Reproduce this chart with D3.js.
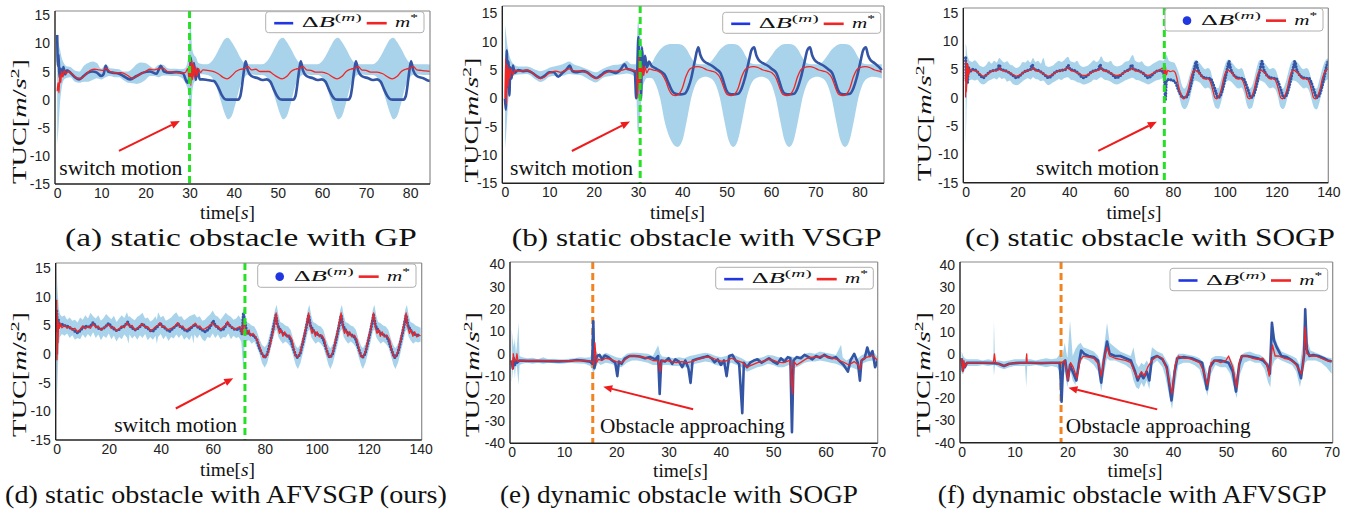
<!DOCTYPE html>
<html>
<head>
<meta charset="utf-8">
<script src="https://cdn.jsdelivr.net/npm/d3@7"></script>
<style>
body { margin: 0; background: #fff; }
svg { display: block; }
</style>
</head>
<body>
<svg id="chart" width="1359" height="515"></svg>
<script>
// tick values
const ticks85 = [0, 10, 20, 30, 40, 50, 60, 70, 80];
const ticks140 = [0, 20, 40, 60, 80, 100, 120, 140];
const ticks70 = [0, 10, 20, 30, 40, 50, 60, 70];
const yTicks15 = [-15, -10, -5, 0, 5, 10, 15];
const yTicks40 = [-40, -30, -20, -10, 0, 10, 20, 30, 40];

const captions = ["(a) static obstacle with GP", "(b) static obstacle with VSGP", "(c) static obstacle with SOGP",
  "(d) static obstacle with AFVSGP (ours)", "(e) dynamic obstacle with SOGP", "(f) dynamic obstacle with AFVSGP"];
const notes = ["switch motion", "switch motion", "switch motion", "switch motion", "Obstacle approaching", "Obstacle approaching"];
const eventTimes = [30.0, 30.5, 76.7, 72.4, 15.5, 18.8];

// (a) GP  -- [time, value] and band [time, lo, hi]
const blueA = [[0,11.5],[0.15,6],[0.3,8],[0.5,4],[0.8,5.5],[1.1,4.2],[1.4,5.8],[1.8,4.5],[2.2,5.2],[3,4.8],[4,4.0],[5,3.6],[6,4.2],[7,4.8],[8,5.0],[9,4.8],[10,4.2],[10.5,4.5],[11,6.0],[11.5,5.0],[12.5,4.8],[14,4.6],[15,4.2],[16.5,3.6],[18,4.2],[19.5,4.8],[21,5.0],[22.5,4.6],[23.5,6.0],[24.2,5.0],[25.5,4.8],[27,4.9],[28.5,4.7],[29.5,3.0],[30,4.0],[30.3,7.5],[30.6,4.0],[31,6.5],[31.4,3.5],[31.8,5.5],[32.3,3.6],[33,3.6],[34,3.5],[35.5,3.3],[36.5,2.2],[37.3,0.8],[38,0.1],[38.5,0],[41,0],[41.5,0.6],[41.9,2.5],[42.3,5.0],[42.7,6.8],[43.2,5.2],[44,4.2],[45.5,3.8],[46.5,3.5],[47.5,3.6],[48.3,3.2],[49,2.0],[49.8,0.7],[50.5,0.05],[51,0],[53.5,0],[54,0.6],[54.4,2.5],[54.8,5.0],[55.2,6.8],[55.7,5.2],[56.5,4.2],[58,3.8],[59,3.5],[60,3.6],[60.8,3.2],[61.5,2.0],[62.3,0.7],[63,0.05],[63.5,0],[66,0],[66.5,0.6],[66.9,2.5],[67.3,5.0],[67.7,6.8],[68.2,5.2],[69,4.2],[70.5,3.8],[71.5,3.5],[72.5,3.6],[73.3,3.2],[74,2.0],[74.8,0.7],[75.5,0.05],[76,0],[78.5,0],[79,0.6],[79.4,2.5],[79.8,5.0],[80.2,6.8],[80.7,5.2],[81.5,4.2],[83,3.8],[84,3.4],[85,3.3]];
const redA = [[0,1.5],[0.2,3],[0.4,1.2],[0.6,4.5],[0.8,3.0],[1.0,5.0],[1.3,4.0],[1.6,5.2],[2,4.6],[2.5,5.0],[3.5,4.5],[4.5,3.8],[5.5,3.8],[6.5,4.5],[7.5,5.2],[8.5,5.4],[9.5,5.3],[10.5,5.2],[11,5.6],[12,5.0],[13,4.8],[14.5,4.8],[16,4.3],[17,3.8],[18.5,4.4],[20,5.0],[21,5.4],[22,5.3],[23,5.5],[24,5.6],[25,5.0],[26.5,4.9],[28,4.8],[29,4.8],[29.6,5.5],[29.9,3.5],[30.1,6.5],[30.3,2.5],[30.5,7],[30.7,3.5],[30.9,6.5],[31.1,4],[31.4,5.8],[31.7,4.2],[32,5.5],[32.5,4.8],[33,5.3],[34,5.2],[35.5,5.0],[36.5,4.6],[37.5,4.0],[38.5,3.7],[39.5,4.2],[40.5,5.0],[41.5,5.4],[42.5,5.5],[43.2,5.9],[44,5.3],[45,5.4],[46,5.0],[47,5.0],[48,5.0],[48.8,4.6],[50,4.0],[51,3.7],[52,4.1],[53,5.0],[54,5.4],[55,5.6],[55.7,5.9],[56.5,5.3],[57.5,5.2],[58.5,4.9],[60,4.9],[61.3,4.6],[62.5,4.0],[63.5,3.7],[64.5,4.1],[65.5,5.0],[66.5,5.4],[67.5,5.6],[68.2,5.9],[69,5.3],[70,5.2],[71,4.9],[72.5,4.9],[73.8,4.6],[75,4.0],[76,3.7],[77,4.1],[78,5.0],[79,5.4],[80,5.6],[80.7,5.9],[81.5,5.3],[82.5,5.2],[83.5,5.1],[85,5.0]];
const bandA = [[0,-8,12],[0.3,-5,10],[0.6,-1,9],[1,2,7.5],[1.5,3.5,6.5],[2,3.8,6],[3,4,5.8],[4,3.2,5.2],[5,3,5],[6,3.2,6],[7,3.2,6.5],[8,3.5,6.8],[9,3.8,6.5],[10,3.6,5.5],[11,4,6.3],[12,4.2,5.6],[13,4,5.5],[14,4,5.4],[15,3.5,5],[16,3,5],[17,2.9,5.5],[18,2.8,6.3],[19,3,6.6],[20,3.5,6.5],[21,4.2,6],[22,4.2,5.6],[23,4,6.2],[24,4.3,6.2],[25,4.3,5.6],[26,4.2,5.5],[27,4.2,5.5],[28,4,5.4],[29,3,5.6],[29.8,1,8],[30.2,-5,14],[30.6,1,9],[31,3,8],[31.5,3.5,7.5],[32,4.5,6.5],[33,4.5,6.3],[34,4.4,6.3],[35,4,6.8],[36,2.5,8],[37,0,9.5],[38,-2.5,10.8],[38.7,-3.5,11],[39.5,-3,10.3],[40.5,-0.5,9],[41.5,2.5,7.5],[42.5,4,6.5],[43.5,4.5,6.3],[45,4.4,6.3],[46.5,4.4,6.3],[47.5,4,6.8],[48.5,2.5,8],[49.5,0,9.5],[50.5,-2.5,10.8],[51.2,-3.5,11],[52,-3,10.3],[53,-0.5,9],[54,2.5,7.5],[55,4,6.5],[56,4.5,6.3],[57.5,4.4,6.3],[59,4.4,6.3],[60,4,6.8],[61,2.5,8],[62,0,9.5],[63,-2.5,10.8],[63.7,-3.5,11],[64.5,-3,10.3],[65.5,-0.5,9],[66.5,2.5,7.5],[67.5,4,6.5],[68.5,4.5,6.3],[70,4.4,6.3],[71.5,4.4,6.3],[72.5,4,6.8],[73.5,2.5,8],[74.5,0,9.5],[75.5,-2.5,10.8],[76.2,-3.5,11],[77,-3,10.3],[78,-0.5,9],[79,2.5,7.5],[80,4,6.5],[81,4.5,6.3],[83,4.4,6.3],[85,4.4,6.2]];

// (b) VSGP
const blueB = [[0,0],[0.2,-2],[0.4,8.5],[0.6,2],[0.8,6.5],[1,0.5],[1.2,5.5],[1.5,3.5],[1.8,5.8],[2.2,4.5],[3,5],[4,4.8],[5,4.9],[6,4.6],[7,4.0],[8,3.6],[9,4.0],[10,4.6],[11,4.6],[12,3.8],[13,4.5],[14,5.2],[14.6,5.8],[15.2,4.8],[16,4.6],[17.5,4.8],[18.5,4.6],[19.5,4.0],[20.6,3.6],[21.5,4.0],[22.5,4.6],[23.5,4.8],[25,4.5],[26,5.0],[27,6.0],[27.6,5.2],[28.5,5.0],[29.3,4.6],[29.6,0],[29.9,6],[30.1,10.8],[30.3,3],[30.5,8],[30.7,0],[30.9,9],[31.2,5],[31.6,7.5],[32,5.5],[32.5,6.5],[33,5.8],[34,5.3],[35,4.8],[36,4.2],[37,2.5],[37.8,1.2],[38.5,0.8],[39.5,0.7],[40.5,0.8],[41.3,1.8],[42,3.5],[42.8,6.5],[43.6,9],[44.1,7.6],[44.6,6.8],[45.6,6.2],[46.6,5.8],[47.6,5.2],[48.6,4.5],[49.3,3.0],[49.9,1.5],[50.6,0.8],[51.5,0.7],[52.6,0.8],[53.4,1.8],[54.1,3.5],[55,6.5],[55.6,8.5],[56.2,9],[56.7,7.6],[57.2,6.8],[58.2,6.2],[59.2,5.8],[60.2,5.2],[61.2,4.5],[61.9,3.0],[62.5,1.5],[63.2,0.8],[64.1,0.7],[65.2,0.8],[66,1.8],[66.7,3.5],[67.6,6.5],[68.2,8.5],[68.8,9],[69.3,7.6],[69.8,6.8],[70.8,6.2],[71.8,5.8],[72.8,5.2],[73.8,4.5],[74.5,3.0],[75.1,1.5],[75.8,0.8],[76.7,0.7],[77.8,0.8],[78.6,1.8],[79.3,3.5],[80.2,6.5],[80.8,8.5],[81.4,9],[81.9,7.6],[82.4,6.8],[83.4,6.2],[84.4,5.5],[85,5]];
const redB = [[0,0],[0.15,7],[0.3,-1],[0.5,6],[0.7,2],[0.9,5.5],[1.1,3.5],[1.4,5.2],[1.8,4.2],[2.3,5],[3,4.8],[5,5],[6,4.6],[7,4.0],[8,3.5],[9,3.8],[10,4.5],[11.5,4.8],[12.5,4.6],[13.5,4.9],[14.5,5.2],[15.5,4.9],[17,4.8],[18.5,4.6],[19.5,4.0],[20.5,3.5],[21.5,3.8],[22.5,4.4],[24,4.8],[25.5,4.8],[26.5,5.0],[27.5,5.2],[28.5,5.0],[29.5,4.9],[29.8,3],[30,0],[30.2,7.5],[30.4,2],[30.6,6],[30.8,3.5],[31,5.8],[31.3,4],[31.6,5.5],[32,4.5],[32.5,5.2],[33.5,5.0],[34.5,4.8],[35.5,4.2],[36.3,3.0],[37,1.5],[37.8,0.6],[38.5,0.5],[39.3,0.8],[40,1.8],[40.8,3.8],[41.5,5.0],[42.2,5.4],[43.5,5.6],[44.6,5.4],[45.6,5.0],[46.6,4.8],[47.6,4.5],[48.6,3.5],[49.4,1.8],[50.1,0.7],[51.1,0.5],[51.9,0.8],[52.6,1.8],[53.4,3.8],[54.1,5.0],[54.8,5.4],[56.1,5.6],[57.2,5.4],[58.2,5.0],[59.2,4.8],[60.2,4.5],[61.2,3.5],[62,1.8],[62.7,0.7],[63.7,0.5],[64.5,0.8],[65.2,1.8],[66,3.8],[66.7,5.0],[67.4,5.4],[68.7,5.6],[69.8,5.4],[70.8,5.0],[71.8,4.8],[72.8,4.5],[73.8,3.5],[74.6,1.8],[75.3,0.7],[76.3,0.5],[77.1,0.8],[77.8,1.8],[78.6,3.8],[79.3,5.0],[80,5.4],[81.3,5.6],[82.4,5.4],[83.4,5.0],[84.4,4.8],[85,4.6]];
const bandB = [[0,-9,13],[0.3,-6,11],[0.6,-2,9],[1,1.5,7.5],[1.5,3.5,6.5],[2,4,6],[3,4.2,5.6],[5,4.3,5.6],[7,3.3,5],[8,2.9,4.8],[9,3.2,5],[10,3.8,5.4],[11.5,4,5.7],[13,4,6],[14.5,4.3,6.5],[15.5,4.2,6],[17,4.1,5.6],[19,3.3,5],[20.5,2.8,4.6],[22,3.6,5.2],[24,4,5.8],[26,4.2,6],[27.5,4.4,6.6],[28.5,4.2,6],[29.5,3.5,6],[30,-6,13.5],[30.5,-3,11],[31,1.5,9],[31.5,3,7.5],[32,3.6,6.5],[33,3.6,6.2],[34,2.5,7.5],[35,0,8.6],[36,-4,9.3],[37.5,-7.5,9.6],[38.9,-8.6,9.6],[40,-7.5,9.4],[41,-4,8.6],[42,0,7.2],[43,2.5,6.2],[44,3.5,6],[45.2,3.8,6],[46.5,3.5,6.5],[47.5,2.5,7.5],[48.5,0,8.6],[49.5,-4,9.3],[50.5,-7.5,9.6],[51.5,-8.6,9.6],[52.5,-7.5,9.4],[53.5,-4,8.6],[54.5,0,7.2],[55.5,2.5,6.2],[56.5,3.5,6],[57.8,3.8,6],[59.1,3.5,6.5],[60.1,2.5,7.5],[61.1,0,8.6],[62.1,-4,9.3],[63.1,-7.5,9.6],[64.1,-8.6,9.6],[65.1,-7.5,9.4],[66.1,-4,8.6],[67.1,0,7.2],[68.1,2.5,6.2],[69.1,3.5,6],[70.4,3.8,6],[71.7,3.5,6.5],[72.7,2.5,7.5],[73.7,0,8.6],[74.7,-4,9.3],[75.7,-7.5,9.6],[76.7,-8.6,9.6],[77.7,-7.5,9.4],[78.7,-4,8.6],[79.7,0,7.2],[80.7,2.5,6.2],[81.7,3.5,6],[83,3.8,6],[85,3.5,6]];

// (c) SOGP, static obstacle
const blueC = [[0,7],[0.2,3],[0.4,6],[0.7,2.5],[1,5.5],[1.5,4.5],[2.5,5],[4,4.8],[5.5,4],[6.8,3.5],[8,4],[9.5,4.6],[11,4.8],[12.3,4.9],[13,5.8],[13.6,5],[15,4.8],[16.5,4.5],[18,4],[19.7,3.5],[21,3.9],[22.5,4.5],[24,4.8],[25,5],[25.7,5.8],[26.3,5],[28,4.8],[29.5,4.4],[31,3.8],[32,3.5],[33.5,4],[35,4.6],[37,4.8],[38.8,5],[39.6,5.7],[40.3,5],[42,4.8],[43.5,4.3],[45.4,3.5],[47,3.9],[48.5,4.5],[50,4.8],[51.3,5],[51.9,5.8],[52.5,5],[54,4.8],[56,4.3],[58.3,3.5],[60,4],[61.5,4.6],[63.3,5],[64.1,5.8],[64.8,5],[66.5,4.8],[68.5,4.3],[70.5,3.5],[72,4],[73.5,4.6],[75,4.8],[76.3,4.5],[76.8,3],[77.1,-0.3],[77.5,3],[78.5,3.2],[79.5,3.1],[80.5,2.9],[81.2,2.5],[82,1.5],[82.8,0.7],[83.7,0.1],[84.7,0],[85.7,0.4],[86.7,1.8],[87.7,3.8],[88.5,5.5],[89,6.4],[89.5,5.3],[90.5,4.2],[91.5,3.7],[92.5,3.5],[93.5,3.4],[94.4,3.4],[95.2,2.8],[96,1.8],[96.7,0.8],[97.4,0],[98.4,0.4],[99.4,1.8],[100.4,3.8],[101.2,5.5],[101.7,6.4],[102.2,5.3],[103.2,4.2],[104.2,3.7],[105.2,3.5],[106.2,3.4],[107.1,3.4],[107.9,2.8],[108.7,1.8],[109.4,0.8],[110.1,0],[111.1,0.4],[112.1,1.8],[113.1,3.8],[113.9,5.5],[114.4,6.4],[114.9,5.3],[115.9,4.2],[116.9,3.7],[117.9,3.5],[118.9,3.4],[119.8,3.4],[120.6,2.8],[121.4,1.8],[122.1,0.8],[122.8,0],[123.8,0.4],[124.8,1.8],[125.8,3.8],[126.6,5.5],[127.1,6.4],[127.6,5.3],[128.6,4.2],[129.6,3.7],[130.6,3.5],[131.6,3.4],[132.5,3.4],[133.3,2.8],[134.1,1.8],[134.8,0.8],[135.5,0],[136.5,0.4],[137.5,1.8],[138.5,3.8],[139.3,5.5],[140,6.5]];
const redC = [[0,0],[0.15,6.5],[0.3,1],[0.5,6],[0.7,3],[0.9,5.8],[1.2,4],[1.6,5],[2.5,4.8],[4,4.7],[5.5,4.2],[6.8,3.8],[8,4],[9.5,4.5],[11,4.8],[12.5,4.8],[13.2,5.3],[14,4.8],[15.5,4.7],[17,4.4],[18.5,4],[19.7,3.8],[21,4],[22.5,4.5],[24,4.8],[25.5,4.9],[26.2,5.3],[27,4.8],[29,4.5],[30.5,4.1],[32,3.8],[33.5,4.1],[35,4.5],[36.5,4.8],[38,4.9],[39.8,5.3],[40.5,4.8],[42,4.6],[44,4.2],[45.5,3.9],[47,4],[48.5,4.4],[50,4.7],[51.5,4.9],[52.3,5.3],[53,4.8],[55,4.6],[57,4.1],[58.5,3.9],[60,4.1],[61.5,4.5],[63,4.8],[64.5,5.2],[65.3,4.8],[67,4.6],[69,4.2],[70.5,3.9],[72,4.2],[73.5,4.6],[75,4.9],[76,5.2],[76.5,4.8],[76.8,3.5],[77.1,5.5],[77.5,4],[78,4.8],[79,4.6],[80,4.7],[80.8,4.5],[81.5,3.5],[82.2,2],[82.9,0.8],[83.5,0],[84.2,-0.2],[85,0.2],[86,1.5],[87,3.5],[87.8,4.6],[88.5,4.9],[89.3,4.6],[90.3,4.3],[91.3,3.6],[92.3,3.3],[93.3,3.4],[94.1,3.1],[94.9,2.2],[95.6,1],[96.2,0],[96.9,-0.2],[97.7,0.2],[98.7,1.5],[99.7,3.5],[100.5,4.6],[101.2,4.9],[102,4.6],[103,4.3],[104,3.6],[105,3.3],[106,3.4],[106.8,3.1],[107.6,2.2],[108.3,1],[108.9,0],[109.6,-0.2],[110.4,0.2],[111.4,1.5],[112.4,3.5],[113.2,4.6],[113.9,4.9],[114.7,4.6],[115.7,4.3],[116.7,3.6],[117.7,3.3],[118.7,3.4],[119.5,3.1],[120.3,2.2],[121,1],[121.6,0],[122.3,-0.2],[123.1,0.2],[124.1,1.5],[125.1,3.5],[125.9,4.6],[126.6,4.9],[127.4,4.6],[128.4,4.3],[129.4,3.6],[130.4,3.3],[131.4,3.4],[132.2,3.1],[133,2.2],[133.7,1],[134.3,0],[135,-0.2],[135.8,0.2],[136.8,1.5],[137.8,3.5],[138.6,4.5],[139.3,4.9],[140,5]];
const bandC = [[0,-9.5,9.5],[0.3,-3,9],[0.6,1,7.5],[1,2.5,7],[1.5,3,6.5],[2.5,3.2,6.3],[3.5,3,6.6],[4.5,3.2,6.2],[5.5,2.6,5.6],[6.8,2.3,5.4],[8,2.6,5.8],[9,3,6.4],[10,3.2,6],[11,3.4,6.5],[12,3.2,6.2],[13,3.6,7],[14,3.3,6.5],[15,3.4,6.2],[16,2.8,6.4],[17,3,5.9],[18,2.5,5.7],[19.7,2.2,5.2],[21,2.5,5.6],[22,2.9,6.3],[23,3.2,6.2],[24,3.4,6.6],[25,3.2,6.2],[26,3.6,7],[27,3.3,6.3],[28,3.2,6.5],[29,2.9,6],[30,3,7],[31,2.5,5.6],[32,2.2,5.4],[33.5,2.6,5.6],[35,3,6.2],[36,3.3,6.5],[37,3.1,6.3],[38,3.4,6.6],[39.5,3.6,7.2],[40.5,3.2,6.4],[42,3,6.2],[43,2.7,6.5],[44,2.6,5.8],[45.5,2.3,5.4],[47,2.5,5.6],[48.5,2.8,6.2],[49.5,3.2,6.6],[50.5,3.1,6.3],[51.5,3.4,6.6],[52.3,3.6,7.3],[53.5,3.2,6.4],[55,3,6.2],[56,2.8,6.5],[57,2.5,5.8],[58.5,2.3,5.5],[60,2.6,5.7],[61.5,3,6.3],[63,3.3,6.5],[64.5,3.5,7.5],[65.5,3.2,6.5],[67,3,6.2],[68,2.8,6.4],[69,2.6,5.8],[70.5,2.3,5.5],[72,2.6,5.9],[73.5,3,6.3],[75,3.2,6.6],[76.3,3.4,6.5],[77,1.5,7],[77.5,2.5,7.5],[78.5,3,6.5],[79.5,2.9,6.3],[80.5,2.8,6.2],[81.5,1.8,5.3],[82.5,0,4],[83.5,-1.6,2.2],[84.5,-2,1.6],[85.5,-1.6,2.4],[86.5,-0.3,4],[87.5,1.8,5.5],[88.5,3,6.6],[89.5,2.9,6.4],[90.5,2.6,6],[91.5,2,5.4],[92.5,1.6,5],[93.5,1.8,5.2],[94.5,1.4,4.8],[95.5,-0.5,3],[96.5,-1.8,1.8],[97.5,-2,1.7],[98.5,-1,3],[99.5,1,4.8],[100.5,2.7,6.2],[101.5,3,6.7],[102.5,2.8,6.3],[103.5,2.3,5.8],[104.5,1.8,5.2],[105.5,1.6,5],[106.5,1.8,5.2],[107.5,0.8,4.3],[108.5,-1.2,2.5],[109.5,-2,1.6],[110.5,-1.8,2],[111.5,-0.2,3.6],[112.5,1.8,5.5],[113.5,3,6.6],[114.5,2.9,6.6],[115.5,2.6,6],[116.5,2,5.5],[117.5,1.6,5],[118.5,1.8,5.2],[119.5,1.5,5],[120.5,0.3,3.8],[121.5,-1.6,2],[122.5,-2,1.6],[123.5,-1.3,2.6],[124.5,0.6,4.4],[125.5,2.3,6],[126.5,3,6.6],[127.5,2.9,6.4],[128.5,2.5,6],[129.5,2,5.3],[130.5,1.6,5],[131.5,1.8,5.2],[132.5,1.3,4.8],[133.5,-0.3,3.2],[134.5,-1.8,1.8],[135.5,-2.1,1.6],[136.5,-1,3],[137.5,1,4.8],[138.5,2.6,6.2],[140,3.3,7]];

// (d) AFVSGP, static obstacle
const blueD = [[0,7.5],[0.3,4],[0.6,6],[1,5],[2,5.2],[3,5],[4,4.9],[5,4.6],[6,4.4],[7,4],[8,3.7],[9,4.1],[10,4.6],[11,4.9],[12,4.7],[13,4.9],[14,5.5],[15,4.9],[16,4.5],[17,4.3],[18,4.5],[19,4.9],[20,5.4],[21,4.8],[22,4.4],[23,4.1],[24,4.3],[25,4.7],[26,4.9],[27.3,5.6],[28,4.9],[29,4.6],[30,4.2],[31,4.4],[32,4.8],[33,5.3],[34,4.8],[35,4.5],[36,4.1],[37,4],[38,4.5],[39,4.9],[39.8,5.4],[40.5,4.9],[41.5,4.6],[42.5,4.2],[43.5,4],[44.5,4.4],[45.5,4.8],[46.7,5.3],[47.5,4.8],[48.5,4.5],[49.5,4.1],[50.5,4],[51.5,4.5],[52.5,4.9],[53.2,5.2],[54,4.8],[55,4.5],[56,4.2],[57,3.9],[58,4.2],[59,4.7],[60.2,5.8],[61,5],[62,4.6],[63,4.2],[64,4.3],[65,4.9],[65.6,5.5],[66.5,5],[67.5,4.6],[68.5,4.3],[69.5,4.3],[70.5,4.5],[71.3,3.5],[71.8,7],[72.3,6],[73,4],[74,3.5],[75,3.3],[76,3.2],[77,2.5],[78,1],[79,0],[80,-0.6],[81,0],[82,1.8],[83,3.8],[84.3,6.8],[85,5],[86,4.2],[87,3.6],[88,3.4],[89,3.2],[90,2.5],[91,1],[92,-0.3],[92.6,-0.6],[93.6,0],[94.6,1.8],[95.6,3.8],[96.9,6.8],[97.6,5],[98.6,4.2],[99.6,3.6],[100.6,3.4],[101.6,3.2],[102.6,2.5],[103.6,1],[104.6,-0.3],[105.1,-0.6],[106.1,0],[107.1,1.8],[108.1,3.8],[109.4,6.8],[110.1,5],[111.1,4.2],[112.1,3.6],[113.1,3.4],[114.1,3.2],[115.1,2.5],[116.1,1],[117.1,-0.3],[117.6,-0.6],[118.6,0],[119.6,1.8],[120.6,3.8],[121.9,6.8],[122.6,5],[123.6,4.2],[124.6,3.6],[125.6,3.4],[126.6,3.2],[127.6,2.5],[128.6,1],[129.6,-0.3],[130.1,-0.6],[131.1,0],[132.1,1.8],[133.1,3.8],[134.4,6.8],[135.1,5],[136.1,4.2],[137.1,3.6],[138.1,3.4],[139,3.3],[140,3.2]];
const redD = [[0,9.5],[0.1,-1],[0.2,7],[0.3,0],[0.4,6],[0.5,2],[0.7,5.5],[1,4.5],[1.5,5.3],[2,4.6],[3,5],[4,4.5],[5,4.8],[6,4.2],[7,4.5],[8,3.9],[9,4.3],[10,4.9],[11,4.4],[12,4.8],[13,4.5],[14,5.3],[15,4.6],[16,4.9],[17,4.2],[18,4.5],[19,4.9],[20,5.1],[21,4.5],[22,4.7],[23,4.1],[24,4.4],[25,4.9],[26,4.6],[27,5.5],[28,4.8],[29,5],[30,4.2],[31,4.5],[32,4.9],[33,5.3],[34,4.6],[35,4.8],[36,4.1],[37,4.3],[38,4.8],[39,5],[39.7,5.5],[40.5,4.7],[41.5,4.9],[42.5,4.2],[43.5,4.4],[44.5,4.6],[45.5,4.9],[46.5,5.5],[47.5,4.7],[48.5,4.9],[49.5,4.2],[50.5,4.4],[51.5,4.7],[52.5,5],[53.3,5.4],[54,4.8],[55,4.9],[56,4.3],[57,4.4],[58,4.7],[59,5.1],[60,5.4],[61,4.8],[62,4.9],[63,4.3],[64,4.7],[65,5],[65.7,5.7],[66.5,4.9],[67.5,4.7],[68.5,4.3],[69.5,4.6],[70.5,4.8],[71.5,3.5],[72,6],[72.4,4.8],[73,3.5],[74,4.2],[74.5,3.2],[75.5,3.6],[76.5,3.0],[77.5,2],[78.5,0.8],[79.5,-0.6],[80.5,-0.5],[81.5,0.5],[82.5,2.5],[83.5,4.5],[84.4,7.2],[85,4.8],[85.7,3.6],[86.3,4.3],[87,3.1],[87.7,3.9],[88.5,3],[89.5,3.3],[90.5,2.5],[91.2,1],[92,-0.4],[92.8,-0.5],[93.8,0.5],[94.8,2.5],[95.8,4.5],[96.9,7.2],[97.5,4.8],[98.2,3.6],[98.8,4.3],[99.5,3.1],[100.2,3.9],[101,3],[102,3.3],[103,2.5],[103.7,1],[104.5,-0.4],[105.3,-0.5],[106.3,0.5],[107.3,2.5],[108.3,4.5],[109.4,7.2],[110,4.8],[110.7,3.6],[111.3,4.3],[112,3.1],[112.7,3.9],[113.5,3],[114.5,3.3],[115.5,2.5],[116.2,1],[117,-0.4],[117.8,-0.5],[118.8,0.5],[119.8,2.5],[120.8,4.5],[121.9,7.2],[122.5,4.8],[123.2,3.6],[123.8,4.3],[124.5,3.1],[125.2,3.9],[126,3],[127,3.3],[128,2.5],[128.7,1],[129.5,-0.4],[130.3,-0.5],[131.3,0.5],[132.3,2.5],[133.3,4.5],[134.4,7.2],[135,4.8],[135.7,3.6],[136.3,4.3],[137,3.1],[137.7,3.9],[138.5,3],[139.3,3.3],[140,3.2]];
const bandD = [[0,-11,15],[0.2,-6,12],[0.5,-2,10],[0.8,1.5,8],[1.2,3,7],[2,3.5,6.5],[3,3.2,6.8],[4,3.6,6],[5,2.8,6.4],[6,3.3,5.8],[7,2.5,6],[8,2.8,5.5],[9,2.6,6.4],[10,3.4,6],[11,2.8,6.8],[12,3.5,6.2],[13,3,7.2],[14,3.8,6.6],[15,2.8,6.2],[16,3.4,6.8],[17,2.4,5.8],[18,3.2,6.3],[19,2.8,7],[20,3.6,6.5],[21,2.6,6.1],[22,3.2,6.7],[23,2.2,5.6],[24,3,6.2],[25,2.6,6.8],[26,3.4,6.3],[27,2.9,7.3],[27.6,1.8,6.5],[28,3.4,6.6],[29,2.7,6.2],[30,3.2,5.9],[31,2.5,6.5],[32,3.3,6.8],[33,2.8,7.2],[34,3.5,6.2],[35,2.4,6.4],[36,3,5.7],[37,2.5,6],[38,3.2,6.6],[38.5,1.8,6],[39,3,7.3],[40,3.5,6.4],[41,2.6,6.7],[42,3.2,5.8],[43,2.3,6.1],[44,3,6.4],[45,2.7,6.9],[46,3.4,7.3],[47,2.8,6.5],[48,3.4,6.6],[49,2.5,5.9],[50,3,6.2],[51,2.4,6.6],[52,3.3,6.8],[52.6,1.8,6.9],[53,3.4,7],[54,2.7,6.4],[55,3.4,6.6],[56,2.6,5.8],[57,2.2,6],[58,3,6.5],[59,2.8,6.9],[60,3.6,7.6],[61,2.8,6.8],[62,3.4,6.5],[63,2.6,6],[64,3,6.6],[65,2.9,7.2],[66,3.6,6.8],[67,2.6,6.5],[68,3.2,6],[69,2.8,6.2],[70,3,6.8],[71,2.2,6],[71.8,-3,8],[72.3,2,7.5],[73,2.3,5.6],[74,2.4,5.4],[75,1.8,5],[76,2.2,4.8],[77,1.2,4],[78,0,2.6],[79,-1.6,1.6],[80,-2.4,1.2],[81,-1.5,1.8],[82,0.3,3.6],[83,2.2,5.6],[84,4,7.8],[84.6,4.3,8.6],[85.3,3,6.8],[86,2.4,5.6],[87,1.8,5.4],[88,2.2,5],[89,1.8,4.8],[90,1.2,4.2],[91,-0.4,2.6],[92,-2,1.4],[92.8,-2.6,1],[93.8,-1.5,1.8],[94.8,0.3,3.6],[95.8,2.2,5.6],[96.6,4,7.8],[97.2,4.3,8.6],[97.9,3,6.8],[98.6,2.4,5.6],[99.6,1.8,5.4],[100.6,2.2,5],[101.6,1.8,4.8],[102.6,1.2,4.2],[103.6,-0.4,2.6],[104.6,-2,1.4],[105.3,-2.6,1],[106.3,-1.5,1.8],[107.3,0.3,3.6],[108.3,2.2,5.6],[109.1,4,7.8],[109.7,4.3,8.6],[110.4,3,6.8],[111.1,2.4,5.6],[112.1,1.8,5.4],[113.1,2.2,5],[114.1,1.8,4.8],[115.1,1.2,4.2],[116.1,-0.4,2.6],[117.1,-2,1.4],[117.8,-2.6,1],[118.8,-1.5,1.8],[119.8,0.3,3.6],[120.8,2.2,5.6],[121.6,4,7.8],[122.2,4.3,8.6],[122.9,3,6.8],[123.6,2.4,5.6],[124.6,1.8,5.4],[125.6,2.2,5],[126.6,1.8,4.8],[127.6,1.2,4.2],[128.6,-0.4,2.6],[129.6,-2,1.4],[130.3,-2.6,1],[131.3,-1.5,1.8],[132.3,0.3,3.6],[133.3,2.2,5.6],[134.1,4,7.8],[134.7,4.3,8.6],[135.4,3,6.8],[136.1,2.4,5.6],[137.1,1.8,5.4],[138.1,2.2,5],[139,2,4.8],[140,2.2,4.6]];

// (e) SOGP, dynamic obstacle
const blueE = [[0,-3],[0.2,-6.5],[0.4,-2],[0.6,-5],[0.8,-3],[1,-4],[1.5,-3],[3,-3.2],[5,-3.2],[7,-3.3],[9,-3.4],[11,-3.2],[12.5,-2.8],[13.5,-3],[15,-3.5],[15.4,-4.5],[15.6,14.5],[15.8,-6.5],[16.3,-1],[16.8,-0.5],[17.3,-2.5],[17.8,-0.8],[18.5,-1.5],[19.2,-3],[19.8,-4],[20.2,-10],[20.5,-3.5],[21,-4.5],[21.6,-2.2],[22.5,-1],[23.5,-1],[24.5,-1.2],[25.5,-2],[26.5,-1.5],[27.5,-2.5],[28,-1],[28.3,-18],[28.6,-3],[29.3,-3.5],[30,-2],[30.7,-4.5],[31.3,-2.5],[32,-3.5],[32.6,-6],[33.2,-3],[33.8,-6.5],[34.2,-13],[34.6,-3],[35.3,-2.5],[36,-2],[36.8,-1.5],[37.5,-1],[38.2,-2],[38.8,-3.8],[39.4,-2.5],[40,-5],[40.6,-3],[41.1,-10],[41.6,-1],[42.2,-0.5],[42.8,-3],[43.5,-4.5],[44.1,-26.5],[44.4,-4],[45,-6],[45.6,-4],[46.3,-3],[47,-2.5],[47.8,-4],[48.5,-3],[49.2,-2],[50,-3.5],[50.8,-4.5],[51.5,-2],[52.2,-3.5],[52.8,-1.5],[53.3,-2],[53.6,-35],[53.9,-3],[54.5,-1.5],[55.3,-2],[56,-0.5],[56.8,-1.5],[57.5,-2.5],[58.2,-1],[59,-1.8],[59.8,-0.5],[60.5,-1.5],[61.3,-2],[62,-1.5],[62.8,-3.5],[63.5,-5],[64.3,-8],[64.8,-3],[65.5,0],[66.2,-4],[66.6,-12],[66.9,-3],[67.5,-2],[68,2.8],[68.5,-1],[69,1.2],[69.5,-6],[70,-3]];
const redE = [[0,-3],[0.2,-7],[0.3,0],[0.5,-3],[0.8,-3],[1,0],[1.2,-3.5],[2,-3],[5,-3],[8,-3.2],[10,-3.3],[12,-3],[14,-3],[15.5,-3.6],[15.7,-5],[15.9,5],[16.2,-4],[16.6,-2.5],[17.2,-3],[18,-2],[19,-2.5],[20,-3.5],[21,-4],[21.8,-2.5],[22.5,-1],[24,-1],[25,-1.5],[26,-2],[27,-3],[28,-3.2],[28.4,-8],[28.7,-3],[29.5,-3],[30.5,-3.5],[31.5,-4],[32.5,-3.5],[33.5,-4],[34.5,-3.5],[35.5,-2.5],[36.5,-1.8],[37.5,-1.5],[38.5,-2],[39.5,-3],[40.5,-3.5],[41.3,-3],[42,-2],[43,-3],[44.2,-4],[45,-6],[46,-5],[47,-4],[48,-3.5],[49,-2.5],[50,-2.8],[51,-3.8],[52,-4],[53.2,-3],[53.7,-18],[54,-3.5],[54.5,-5],[55.5,-3.5],[56.5,-2],[57.5,-1.5],[58.5,-1.5],[59.5,-0.8],[60.5,-1.5],[61.5,-2],[62.5,-2.8],[63.5,-3.8],[64.5,-5],[65.5,-3.5],[66.3,-5],[66.6,-7],[67,-2.5],[68,-1.5],[69,-0.8],[70,-3]];
const bandE = [[0,-13,11],[0.2,-8,6],[0.4,-4,3],[0.6,-11,7],[0.8,-5,0],[1,-6,4],[1.3,-14,14],[1.5,-5,-1],[2,-4.5,-1.5],[3,-4,-2],[4,-4.5,-1.8],[5,-4,-2.5],[6,-4.5,-1.5],[7,-4,-2.5],[8,-4.2,-2.2],[9,-4.5,-2.4],[10,-4.3,-2.4],[11,-4,-2.2],[12,-4.2,-2],[13,-4.4,-1.6],[14,-4.5,-1.8],[15,-5.5,-1.5],[15.4,-7,1],[15.6,-9,15],[15.9,-7,2],[16.5,-4,0],[17,-5,-1],[18,-4,0.5],[19,-4.5,-0.5],[20,-5.5,-1.5],[21,-6,-2],[22,-4,0],[23,-3,0.5],[24,-3,0.5],[25,-3.5,0.2],[26,-4,0],[27,-5,-1],[28,-5,3.8],[28.4,-9,0],[28.8,-5,-1.2],[30,-5,-1.5],[31,-5.5,-2],[32,-5.5,-1.5],[33,-6,-2],[34,-6,-1],[35,-4.5,-0.5],[36,-4,0],[37,-3.5,0.5],[38,-3.8,0],[39,-5,-1],[40,-5.5,-1.5],[41,-5,-1],[42,-4,0],[43,-5,-1],[44,-6,-2],[45,-8,-3.5],[46,-7,-3],[47,-6,-2],[48,-5.5,-1.5],[49,-4.5,-0.5],[50,-5,-0.8],[51,-6,-1.5],[52,-6,-2],[53,-5,-1],[54,-6.5,-1.5],[55,-5.5,-1.5],[56,-4,0],[57,-3.5,0.5],[58,-3.5,0],[59,-3,1],[60,-3.5,0.5],[61,-4,0],[62,-4.5,-0.5],[63,-5.5,4],[63.3,-6,-1.5],[64,-7,-3],[65,-6,-1.5],[66,-7,-2.5],[67,-4.5,-0.5],[68,-3.5,0.5],[69,-3,1.5],[70,-5,-1.5]];

// (f) AFVSGP, dynamic obstacle
const blueF = [[0,-2],[0.2,-7.5],[0.4,-4],[0.6,-6],[1,-4],[2,-4],[4,-4],[6,-4.2],[7,-4.5],[8,-5.5],[9,-4.5],[11,-4],[13,-4],[15,-4.2],[17,-4],[18.5,-4],[18.7,-10],[18.9,-21.5],[19.2,-4],[19.6,-3],[20.1,-12],[20.5,-5],[21,-8],[21.7,-12],[22.2,-4],[22.6,1.5],[23.2,0],[24,-1],[25,-1.5],[25.8,-3],[26.4,-13],[26.9,-3],[27.5,5.5],[28,0],[29,-1],[30,-1],[31,-2],[32,-3],[32.8,-8],[33.3,-12],[33.9,-9],[34.4,-11],[35,-8],[35.5,-12],[36,-2],[37,-1],[38,-2.5],[38.8,-6],[39.7,-21],[40.3,-8],[40.8,-2],[42,-1.5],[43.5,-2],[44.5,-3],[45.5,-4],[46.4,-16],[47,-6],[47.8,-3],[49,-3],[50.5,-4],[51.3,-8],[51.9,-17],[52.5,-5],[53,-1],[54,-1],[55,-1.5],[56,-2],[57,-3],[57.8,-5],[58.3,-9],[58.7,14],[59.1,6],[59.6,3],[60.5,-1],[61.5,-1.5],[62.5,-3],[63.5,-5],[64.2,-11],[64.8,0],[65,20],[65.3,2],[65.8,-1],[66.5,-0.5],[67.5,-1],[68.5,-2],[69.3,-3],[70,-3.5]];
const redF = [[0,-2],[0.2,-8],[0.4,-3],[0.6,-6],[1,-4],[2,-4],[4,-4],[6,-4],[6.2,0],[6.4,-4],[7,-4.5],[8,-5.5],[9,-4.5],[11,-4],[12.2,-4],[12.3,0],[12.4,-4],[14,-4],[16,-4],[18,-4],[19,-4],[19.5,-3],[20.1,-12],[20.6,-4],[21.1,-6],[21.8,-11],[22.4,-3],[23,-1],[24,-1.5],[25,-2],[26,-5],[26.4,-10],[26.9,-3],[27.5,3],[28,-1],[29,-2],[30,-2.5],[31,-3],[32,-4],[32.8,-9],[33.4,-11],[34,-8],[34.6,-10],[35.2,-6],[36,-3],[37,-1],[38,-2],[38.8,-7],[39.8,-18],[40.4,-5],[41,-1],[42,-2],[43,-2],[44,-3],[45,-4],[45.8,-8],[46.5,-14],[47.2,-4],[48,-3],[49,-4],[50,-3],[50.5,-1],[51.3,-6],[52,-15],[52.6,-3],[53,-1],[54,-1],[55,-2],[56,-2.5],[57,-2],[57.8,-5],[58.2,-10],[58.8,4],[59.3,-1],[60,-1],[61,-2],[62,-2.5],[63,-4],[64.3,-9],[64.7,-3],[65,12],[65.3,0],[66,-1],[67,-1],[68,-2],[69,-3],[70,-3.5]];
const bandF = [[0,-9,1],[0.3,-9,-1],[0.6,-7,-2],[1,-5.5,-2.5],[2,-5.5,-2.5],[3,-5.5,-2.5],[4,-5,-3],[5,-5.5,-2.5],[6,-5,-3],[6.1,-10,15],[6.3,-5,-3],[7,-6,-3],[8,-7,-3.5],[9,-6,-3],[10,-5.5,-2.5],[11,-5.5,-2.5],[12,-5.5,-2.5],[12.2,-15,0],[12.4,-5.5,-2.5],[13,-5.5,-2.5],[14,-5,-3],[15,-5.5,-2.5],[16,-6,-2],[17,-5.5,-2.5],[18,-6,-2],[18.6,-8,0],[19,-14,-2],[19.5,-8,5],[20,-15,-2],[20.5,-7,15],[21,-12,-1],[21.5,-14,2],[22,-8,4],[22.5,-4,5],[23,-2,3],[24,-3,2],[25,-5,1],[25.8,-8,-1],[26.4,-17,-5],[27,-8,4],[27.5,-2,14],[28,-3,5],[29,-3,3],[30,-4,1],[31,-5,0],[32,-7,-1],[32.5,-12,3],[33,-15,-4],[33.5,-16,-6],[34,-13,-4],[34.5,-15,-5],[35,-12,-3],[35.5,-16,-5],[36,-5,3],[37,-3,1],[38,-6,0],[38.5,-10,-2],[39.2,-18,-5],[39.8,-25,-12],[40.4,-14,-2],[41,-5,0],[42,-4,0],[43,-4,-0.5],[44,-5,-1],[45,-7,-2],[45.8,-13,-4],[46.5,-19,-9],[47.2,-9,-2],[48,-5,-1],[49,-6,-1],[50,-6,-1.5],[50.8,-9,-2],[51.5,-15,-5],[52,-20,-10],[52.7,-9,-1],[53.5,-4,0.5],[54.5,-3,1],[55.5,-4,0],[56.5,-4,-0.5],[57.3,-7,-2],[58,-13,-4],[58.4,-15,-5],[58.7,-6,15],[59.2,-3,8],[59.8,-2,4],[60.5,-3,1],[61.5,-4,0],[62.5,-5,-1],[63.3,-8,-2],[64,-15,-5],[64.5,-9,4],[65,-4,22],[65.4,-3,6],[66,-3,1.5],[67,-3,0.5],[68,-4,-0.5],[69,-6,-1.5],[70,-9,-2]];

// layout of each subplot
const panels = [
  {frame:[55,430,11,184], xDom:[-0.5,84.5], yDom:[-15,15.76], xTicks:ticks85, yTicks:yTicks15, band:bandA, blue:blueA, red:redA, dotted:false, smooth:true, front:true, color:"#26e026",
   note:[0.47,-13.4], arrow:[[14,-9.1],[27.8,-3.8]], legend:[265.7,11.7,424,32.7], cap:[241,246,352], ylab:[26,121.5], xlab:[227.5,219]},
  {frame:[502.3,884,6,183.3], xDom:[-0.6,85.5], yDom:[-15,16.3], xTicks:ticks85, yTicks:yTicks15, band:bandB, blue:blueB, red:redB, dotted:false, smooth:true, front:true, color:"#26e026",
   note:[1.14,-13.5], arrow:[[15.1,-9.3],[28.2,-4.1]], legend:[722.7,12.3,880.7,33.3], cap:[696.7,246,370], ylab:[478,120], xlab:[677.5,219]},
  {frame:[963.3,1328.3,8,182.7], xDom:[-0.9,140], yDom:[-15,15.8], xTicks:ticks140, yTicks:yTicks15, band:bandC, blue:blueC, red:redC, dotted:true, smooth:true, front:true, color:"#26e026",
   note:[27.2,-13.6], arrow:[[51.2,-9.4],[73.8,-4.25]], legend:[1165,8.3,1323,31], cap:[1150,246,370], ylab:[931,118.5], xlab:[1134,219]},
  {frame:[55.7,421.7,263,440], xDom:[-0.4,140.4], yDom:[-15,15.9], xTicks:ticks140, yTicks:yTicks15, band:bandD, blue:blueD, red:redD, dotted:true, smooth:false, front:true, color:"#26e026",
   note:[22.1,-13.6], arrow:[[45.8,-9.5],[67.9,-4.2]], legend:[257.7,264,416,287.3], cap:[226,503,442], ylab:[26,374.5], xlab:[227.5,476]},
  {frame:[510,877.7,262,443.3], xDom:[-0.33,70], yDom:[-40,41], xTicks:ticks70, yTicks:yTicks40, band:bandE, blue:blueE, red:redE, dotted:false, smooth:false, front:false, color:"#f08420",
   note:[16.9,-35.5], arrow:[[34.7,-24.8],[17.5,-14.7]], legend:[715.7,267.3,873.3,289], cap:[679,503,358], ylab:[479,374.5], xlab:[680.5,477]},
  {frame:[960,1332.7,262,442.7], xDom:[-0.32,70.2], yDom:[-40,41.3], xTicks:ticks70, yTicks:yTicks40, band:bandF, blue:blueF, red:redF, dotted:false, smooth:false, front:false, color:"#f08420",
   note:[19.7,-35.6], arrow:[[37,-25],[20.2,-15.25]], legend:[1170,268.3,1327.7,290.7], cap:[1132.3,503,389], ylab:[930,374.5], xlab:[1135,477]}
];

const BAND = "#a9d3ea", BLUE = "#3454a4", RED = "#f02626", LEGBLUE = "#1f36e0", ARROW = "#ee1c1c";
const SERIF = "Liberation Serif, Times New Roman, serif";
const SANS = "Liberation Sans, Arial, sans-serif";

const svg = d3.select("#chart");

// text placed at origin of a group, then stretched to the width measured on the figure
function label(parent, x, y, rot, anchor, size, width, build) {
  const g = parent.append("g").attr("transform", `translate(${x},${y}) rotate(${rot})`);
  const t = g.append("text").attr("text-anchor", anchor)
    .style("font-family", SERIF).attr("font-size", size).attr("fill", "#111");
  build(t);
  if (width) {
    const w = t.node().getComputedTextLength();
    t.attr("transform", `scale(${width / w},1)`);
  }
  return t;
}

panels.forEach((p, i) => {
  const [L, R, T, B] = p.frame;
  const x = d3.scaleLinear().domain(p.xDom).range([L, R]);
  const y = d3.scaleLinear().domain(p.yDom).range([B, T]);
  const g = svg.append("g");

  g.append("clipPath").attr("id", "clip" + i)
    .append("rect").attr("x", L).attr("y", T).attr("width", R - L).attr("height", B - T);
  const plot = g.append("g").attr("clip-path", `url(#clip${i})`);
  const curve = p.smooth ? d3.curveMonotoneX : d3.curveLinear;

  plot.append("path").datum(p.band)
    .attr("d", d3.area().x(d => x(d[0])).y0(d => y(d[1])).y1(d => y(d[2])).curve(curve))
    .attr("fill", BAND);

  const eventLine = () => plot.append("line")
    .attr("x1", x(eventTimes[i])).attr("x2", x(eventTimes[i]))
    .attr("y1", T).attr("y2", B)
    .attr("stroke", p.color).attr("stroke-width", 3).attr("stroke-dasharray", "7,4");
  if (!p.front) eventLine();

  const line = d3.line().x(d => x(d[0])).y(d => y(d[1])).curve(curve);
  const bl = plot.append("path").datum(p.blue).attr("d", line)
    .attr("fill", "none").attr("stroke", BLUE);
  if (p.dotted) bl.attr("stroke-width", 3.2).attr("stroke-dasharray", "0 2.9").attr("stroke-linecap", "round");
  else bl.attr("stroke-width", 2.6).attr("stroke-linejoin", "round");

  plot.append("path").datum(p.red).attr("d", line)
    .attr("fill", "none").attr("stroke", RED).attr("stroke-width", 1.3).attr("stroke-linejoin", "round");

  if (p.front) eventLine();

  // spines
  g.append("line").attr("x1", L).attr("x2", R).attr("y1", T).attr("y2", T).attr("stroke", "#8a8a8a").attr("stroke-width", 1.2);
  g.append("line").attr("x1", R).attr("x2", R).attr("y1", T).attr("y2", B).attr("stroke", "#8a8a8a").attr("stroke-width", 1.2);
  g.append("line").attr("x1", L).attr("x2", L).attr("y1", T).attr("y2", B).attr("stroke", "#222").attr("stroke-width", 1.4);
  g.append("line").attr("x1", L).attr("x2", R).attr("y1", B).attr("y2", B).attr("stroke", "#222").attr("stroke-width", 1.4);

  // axes
  const xa = g.append("g").attr("transform", `translate(0,${B})`)
    .call(d3.axisBottom(x).tickValues(p.xTicks).tickSize(0).tickPadding(4).tickFormat(d => String(d)));
  const ya = g.append("g").attr("transform", `translate(${L},0)`)
    .call(d3.axisLeft(y).tickValues(p.yTicks).tickSize(0).tickPadding(5).tickFormat(d => String(d)));
  [xa, ya].forEach(a => {
    a.select(".domain").remove();
    a.attr("font-family", SANS).attr("font-size", 14);
    a.selectAll("text").attr("fill", "#222");
  });

  // axis titles
  label(g, p.xlab[0], p.xlab[1], 0, "middle", 18, 55, t => {
    t.append("tspan").text("time[");
    t.append("tspan").attr("font-style", "italic").text("s");
    t.append("tspan").text("]");
  });
  label(g, p.ylab[0], p.ylab[1], -90, "middle", 19, 125, t => {
    t.append("tspan").text("TUC[");
    t.append("tspan").attr("font-style", "italic").text("m");
    t.append("tspan").text("/");
    t.append("tspan").attr("font-style", "italic").text("s");
    t.append("tspan").attr("font-size", 13).attr("dy", -7).text("2");
    t.append("tspan").attr("dy", 7).text("]");
  });

  // annotation
  label(g, x(p.note[0]), y(p.note[1]), 0, "start", 21, notes[i].length > 15 ? 185 : 123, t => t.text(notes[i]));
  const [a0, a1] = p.arrow;
  const x0 = x(a0[0]), y0 = y(a0[1]), x1 = x(a1[0]), y1 = y(a1[1]);
  const ang = Math.atan2(y1 - y0, x1 - x0), hl = 9, hw = 3.8;
  const bx = x1 - hl * Math.cos(ang), by = y1 - hl * Math.sin(ang);
  g.append("line").attr("x1", x0).attr("y1", y0).attr("x2", bx).attr("y2", by)
    .attr("stroke", ARROW).attr("stroke-width", 2);
  g.append("path")
    .attr("d", `M${x1},${y1}L${bx - hw * Math.sin(ang)},${by + hw * Math.cos(ang)}L${bx + hw * Math.sin(ang)},${by - hw * Math.cos(ang)}Z`)
    .attr("fill", ARROW);

  // legend
  const [lx0, ly0, lx1, ly1] = p.legend;
  const cy = (ly0 + ly1) / 2;
  g.append("rect").attr("x", lx0).attr("y", ly0).attr("width", lx1 - lx0).attr("height", ly1 - ly0)
    .attr("rx", 3).attr("fill", "#fff").attr("fill-opacity", 0.85).attr("stroke", "#b0b0b0").attr("stroke-width", 1);
  if (p.dotted) {
    g.append("circle").attr("cx", lx0 + 22).attr("cy", cy + 1).attr("r", 4.3).attr("fill", LEGBLUE);
  } else {
    g.append("line").attr("x1", lx0 + 8.5).attr("x2", lx0 + 27.5).attr("y1", cy + 1).attr("y2", cy + 1)
      .attr("stroke", LEGBLUE).attr("stroke-width", 2.6);
  }
  g.append("line").attr("x1", lx0 + 101).attr("x2", lx0 + 121).attr("y1", cy + 1).attr("y2", cy + 1)
    .attr("stroke", RED).attr("stroke-width", 2.6);
  label(g, lx0 + 36, cy + 5, 0, "start", 15, 60, t => {
    t.append("tspan").text("Δ");
    t.append("tspan").attr("font-style", "italic").text("B");
    t.append("tspan").attr("font-size", 11).attr("dy", -6).text("(");
    t.append("tspan").attr("font-size", 11).attr("font-style", "italic").text("m");
    t.append("tspan").attr("font-size", 11).text(")");
  });
  label(g, lx0 + 129.3, cy + 5, 0, "start", 15, 23, t => {
    t.append("tspan").attr("font-style", "italic").text("m");
    t.append("tspan").attr("font-size", 11).attr("dy", -6).text("*");
  });

  // caption
  label(svg, p.cap[0], p.cap[1], 0, "middle", 26, p.cap[2], t => t.text(captions[i]));
});
</script>
</body>
</html>
